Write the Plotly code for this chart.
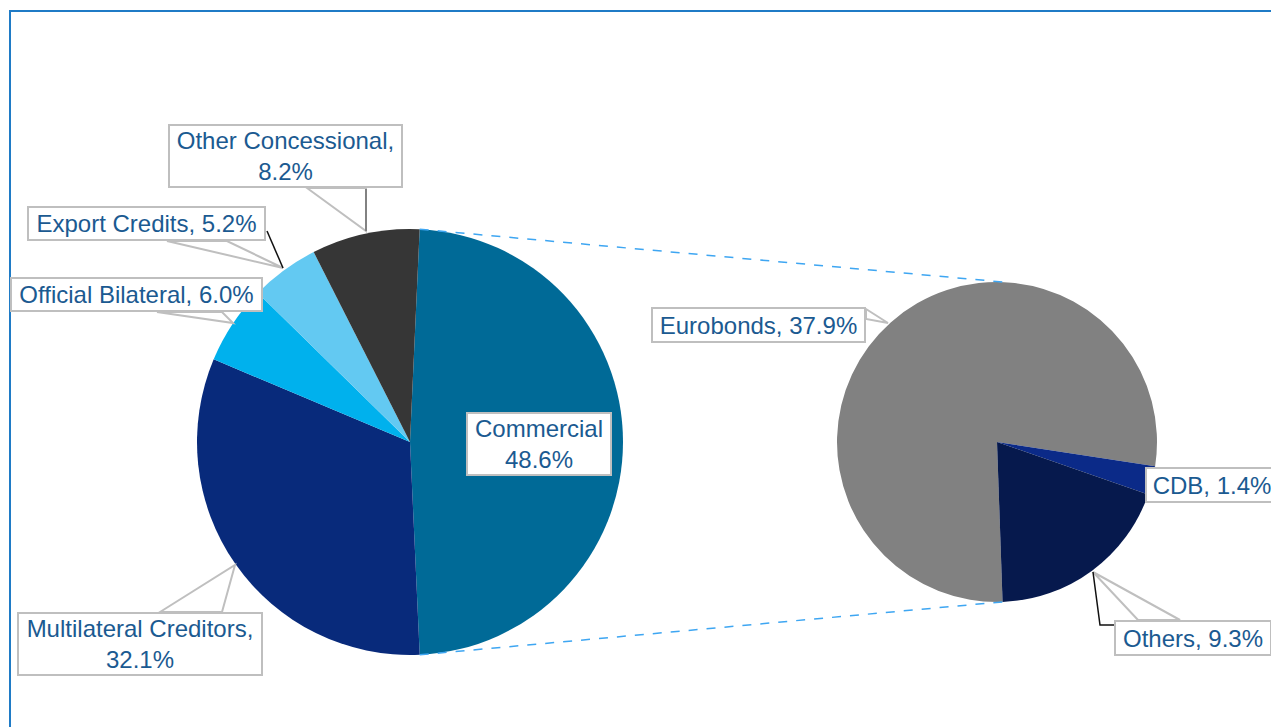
import math
import plotly.graph_objects as go

W, H = 1271, 727

# ---- data ----
main_labels = ["Commercial", "Multilateral Creditors", "Official Bilateral", "Export Credits", "Other Concessional"]
main_values = [48.6, 32.1, 6.0, 5.2, 8.2]
main_colors = ["#006A97", "#082A7B", "#00B1ED", "#63C9F2", "#363636"]

sub_labels = ["Eurobonds", "CDB", "Others"]
sub_values = [37.9, 1.4, 9.3]
sub_colors = ["#818181", "#0B2A88", "#06194D"]

# ---- geometry (pixels) ----
L_CX, L_CY, L_R = 410, 442, 213
R_CX, R_CY, R_R = 997, 442, 160
L_ROT = 2.6
R_ROT = 178.0

TEXT_COLOR = "#1B5A91"
BOX_LINE = "#BFBFBF"
FONT = "Liberation Sans, Arial, sans-serif"
FS = 24


def px(x):
    return x / W


def py(y):
    return 1 - y / H


def domain(cx, cy, r):
    return dict(x=[px(cx - r), px(cx + r)], y=[py(cy + r), py(cy - r)])


def pt(cx, cy, r, ang):
    a = math.radians(ang)
    return cx + r * math.sin(a), cy - r * math.cos(a)


fig = go.Figure()
fig.add_trace(go.Pie(
    labels=main_labels, values=main_values, sort=False, direction="clockwise",
    rotation=L_ROT, marker=dict(colors=main_colors, line=dict(width=0)),
    textinfo="none", hoverinfo="label+percent", domain=domain(L_CX, L_CY, L_R),
    showlegend=False,
))
fig.add_trace(go.Pie(
    labels=sub_labels, values=sub_values, sort=False, direction="clockwise",
    rotation=R_ROT, marker=dict(colors=sub_colors, line=dict(width=0)),
    textinfo="none", hoverinfo="label+value", domain=domain(R_CX, R_CY, R_R),
    showlegend=False,
))

shapes = []
# frame
shapes.append(dict(type="rect", xref="paper", yref="paper", x0=px(10), x1=px(W + 20),
                   y0=py(H + 20), y1=py(11), line=dict(color="#1F7BC6", width=2), layer="below"))

# connector dashed lines from the commercial slice to the second pie
tot = sum(main_values)
com_start = L_ROT
com_end = L_ROT + main_values[0] / tot * 360
for a_l, a_r in [(com_start, 3.0), (com_end, R_ROT)]:
    x0, y0 = pt(L_CX, L_CY, L_R, a_l)
    x1, y1 = pt(R_CX, R_CY, R_R, a_r)
    shapes.append(dict(type="line", xref="paper", yref="paper", x0=px(x0), y0=py(y0),
                       x1=px(x1), y1=py(y1), line=dict(color="#3EA6F2", width=1.5, dash="dash"),
                       layer="above"))

# label boxes: (text, left, top, right, bottom, callout base pts, tip, leader line)
labels_layout = [
    (f"{main_labels[4]},<br>{main_values[4]:.1f}%", 168, 124, 403, 188,
     [(307, 188), (366, 188)], (366, 231), None),
    (f"{main_labels[3]}, {main_values[3]:.1f}%", 27, 206, 266, 241,
     [(167, 241), (227, 241)], (283, 268), [(267, 231), (283, 268)]),
    (f"{main_labels[2]}, {main_values[2]:.1f}%", 10, 277, 263, 312,
     [(157, 312), (222, 312)], (233, 323), None),
    (f"{main_labels[1]},<br>{main_values[1]:.1f}%", 17, 612, 263, 676,
     [(160, 612), (222, 612)], (235, 565), None),
    (f"{main_labels[0]}<br>{main_values[0]:.1f}%", 466, 412, 612, 476, None, None, None),
    (f"{sub_labels[0]}, {sub_values[0]:.1f}%", 651, 307, 866, 343,
     [(866, 309), (866, 319)], (888, 323), None),
    (f"{sub_labels[1]}, {sub_values[1]:.1f}%", 1145, 467, 1279, 503, None, None, None),
    (f"{sub_labels[2]}, {sub_values[2]:.1f}%", 1114, 620, 1272, 656,
     [(1138, 620), (1180, 620)], (1093, 572), [(1093, 572), (1100, 625), (1114, 625)]),
]

annotations = []
for text, x0, y0, x1, y1, base, tip, leader in labels_layout:
    if base:
        path = (f"M {px(base[0][0])} {py(base[0][1])} L {px(tip[0])} {py(tip[1])} "
                f"L {px(base[1][0])} {py(base[1][1])} Z")
        shapes.append(dict(type="path", xref="paper", yref="paper", path=path,
                           fillcolor="white", line=dict(color=BOX_LINE, width=2), layer="above"))
    if leader:
        p = "M " + " L ".join(f"{px(a)} {py(b)}" for a, b in leader)
        shapes.append(dict(type="path", xref="paper", yref="paper", path=p,
                           line=dict(color="#111111", width=1.5), layer="above"))
    annotations.append(dict(
        text=text, xref="paper", yref="paper", x=px(x0), y=py(y0),
        xanchor="left", yanchor="top", showarrow=False, align="center",
        width=(x1 - x0) - 4, height=(y1 - y0) - 4, valign="middle",
        bgcolor="white", bordercolor=BOX_LINE, borderwidth=2, borderpad=0,
        font=dict(family=FONT, size=FS, color=TEXT_COLOR),
    ))

# vertical darker edge of "Other Concessional" callout
shapes.append(dict(type="line", xref="paper", yref="paper", x0=px(366), y0=py(189),
                   x1=px(366), y1=py(231), line=dict(color="#6E6E6E", width=1.5), layer="above"))

fig.update_layout(
    width=W, height=H, margin=dict(l=0, r=0, t=0, b=0),
    paper_bgcolor="white", plot_bgcolor="white",
    shapes=shapes, annotations=annotations, showlegend=False,
    font=dict(family=FONT),
)

fig.write_html("out.html")
